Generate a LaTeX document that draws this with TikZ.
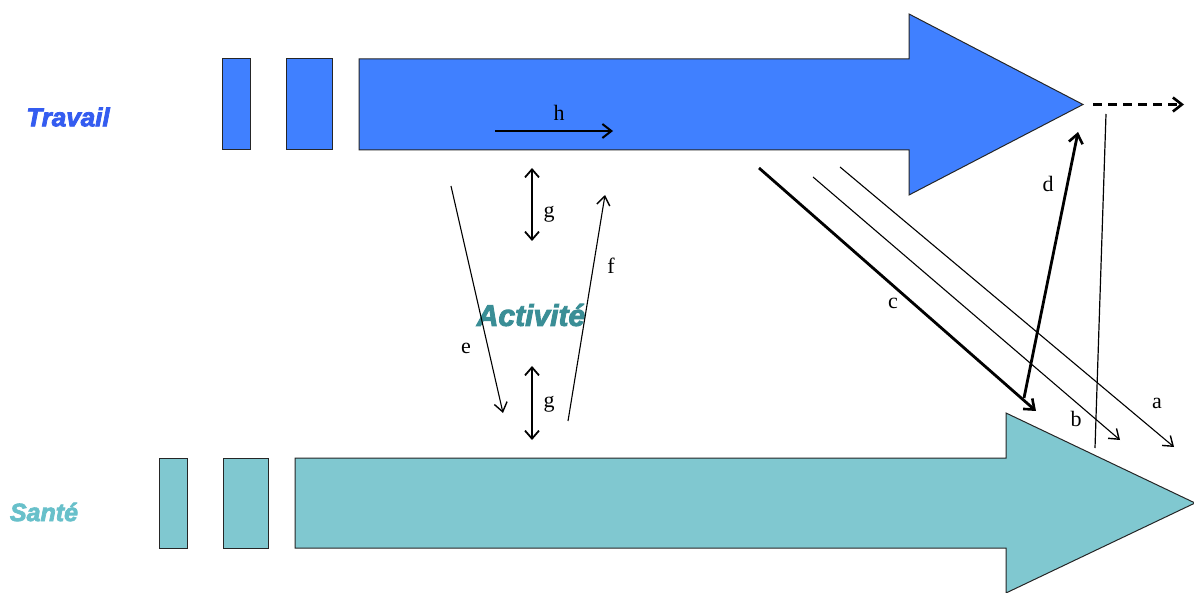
\documentclass[tikz,border=0pt]{standalone}
\usepackage{fontspec}
\setmainfont{Liberation Serif}
\newfontfamily\headfont{Liberation Sans}[BoldItalicFeatures={FakeBold=3}]
\usetikzlibrary{arrows.meta}
\definecolor{travailblue}{RGB}{64,128,255}
\definecolor{travailtext}{RGB}{52,92,240}
\definecolor{santefill}{RGB}{128,200,208}
\definecolor{santetext}{RGB}{104,192,202}
\definecolor{activtext}{RGB}{58,142,150}
\begin{document}
\begin{tikzpicture}[x=1pt,y=-1pt,
  band/.style={draw=black!85,line width=1pt,line join=miter},
  title/.style={font=\headfont\bfseries\itshape\fontsize{#1}{#1}\selectfont,inner sep=0pt},
  lbl/.style={font=\fontsize{22}{24}\selectfont,inner sep=0pt},
  thinarr/.style={line width=1.1pt,-{Straight Barb[length=9pt,width=13pt,line width=1.4pt]}},
  thickarr/.style={line width=2.8pt,-{Straight Barb[length=9pt,width=14pt,line width=2.6pt]}},
  medarr/.style={line width=2pt,-{Straight Barb[length=9pt,width=14pt,line width=2pt]}},
  twoway/.style={line width=1.7pt,{Straight Barb[length=8pt,width=14pt,line width=1.8pt]}-{Straight Barb[length=8pt,width=14pt,line width=1.8pt]}},
]
\useasboundingbox (0,0) rectangle (1194,593);
\clip (0,0) rectangle (1194,593);

% Travail band
\filldraw[band,fill=travailblue] (222.5,59) rectangle (250,150);
\filldraw[band,fill=travailblue] (286,59) rectangle (332,150);
\filldraw[band,fill=travailblue] (359,59) -- (909,59) -- (909,14) -- (1083,104.5)
  -- (909,195) -- (909,150) -- (359,150) -- cycle;

% Santé band
\filldraw[band,fill=santefill] (159,458) rectangle (187,548);
\filldraw[band,fill=santefill] (223,458) rectangle (268,548);
\filldraw[band,fill=santefill] (295,458) -- (1006,458) -- (1006,413) -- (1195,503)
  -- (1006,593) -- (1006,548) -- (295,548) -- cycle;

% titles
\node[title=26,text=travailtext] (travail) at (68,117) {Travail};
\node[title=25,text=santetext] (sante) at (44,512) {Santé};
\node[title=30,text=activtext] (activite) at (531,315) {Activité};

% end points
\coordinate (h1) at (495,131);   \coordinate (h2) at (613,131);
\coordinate (g1a) at (532,168);  \coordinate (g1b) at (532,241);
\coordinate (g2a) at (532,366);  \coordinate (g2b) at (532,440);
\coordinate (e1) at (451,186);   \coordinate (e2) at (503,413);
\coordinate (f1) at (568,421);   \coordinate (f2) at (605,195);
\coordinate (c1) at (759,168);   \coordinate (c2) at (1036,411);
\coordinate (b1) at (813,177);   \coordinate (b2) at (1120,440);
\coordinate (a1) at (840,167);   \coordinate (a2) at (1174,447);
\coordinate (d1) at (1024,398);  \coordinate (d2) at (1078,132);
\coordinate (v1) at (1106,114);  \coordinate (v2) at (1095,448);
\coordinate (x1) at (1093,104.5);\coordinate (x2) at (1184,104.5);

% connectors
\draw[medarr] (h1) -- (h2);
\draw[twoway] (g1a) -- (g1b);
\draw[twoway] (g2a) -- (g2b);
\draw[thinarr] (e1) -- (e2);
\draw[thinarr] (f1) -- (f2);
\draw[thickarr] (c1) -- (c2);
\draw[thinarr] (b1) -- (b2);
\draw[thinarr] (a1) -- (a2);
\draw[thickarr] (d1) -- (d2);
\draw[line width=1.2pt] (v1) -- (v2);
\draw[line width=2.8pt,dash pattern=on 9pt off 6pt,-{Straight Barb[length=9pt,width=14pt,line width=2.6pt]}] (x1) -- (x2);

% labels
\node[lbl] (lh) at (559,113) {h};
\node[lbl] (lg1) at (549,214) {g};
\node[lbl] (lg2) at (549,404) {g};
\node[lbl] (le) at (466,348) {e};
\node[lbl] (lf) at (611,266) {f};
\node[lbl] (lc) at (893,303) {c};
\node[lbl] (lb) at (1076,419) {b};
\node[lbl] (la) at (1157,403) {a};
\node[lbl] (ld) at (1048,184) {d};
\end{tikzpicture}
\end{document}
